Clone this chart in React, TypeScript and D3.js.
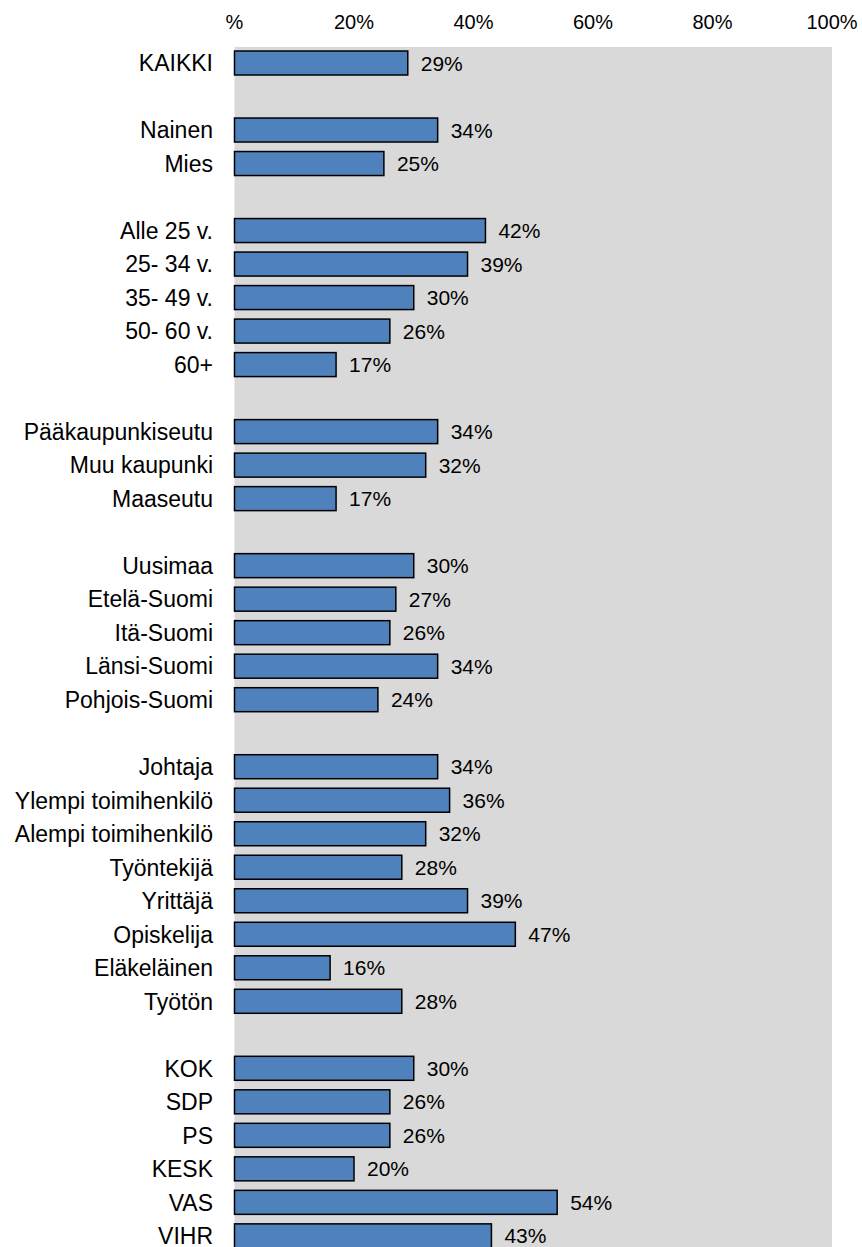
import React from "react";
import * as d3 from "d3";

const categories: string[] = [
  "KAIKKI", "_b1",
  "Nainen", "Mies", "_b2",
  "Alle 25 v.", "25- 34 v.", "35- 49 v.", "50- 60 v.", "60+", "_b3",
  "Pääkaupunkiseutu", "Muu kaupunki", "Maaseutu", "_b4",
  "Uusimaa", "Etelä-Suomi", "Itä-Suomi", "Länsi-Suomi", "Pohjois-Suomi", "_b5",
  "Johtaja", "Ylempi toimihenkilö", "Alempi toimihenkilö", "Työntekijä", "Yrittäjä", "Opiskelija", "Eläkeläinen", "Työtön", "_b6",
  "KOK", "SDP", "PS", "KESK", "VAS", "VIHR",
];

const values: (number | null)[] = [
  29, null,
  34, 25, null,
  42, 39, 30, 26, 17, null,
  34, 32, 17, null,
  30, 27, 26, 34, 24, null,
  34, 36, 32, 28, 39, 47, 16, 28, null,
  30, 26, 26, 20, 54, 43,
];

const tickValues = [0, 20, 40, 60, 80, 100];
const tickLabels = ["%", "20%", "40%", "60%", "80%", "100%"];

const W = 862;
const H = 1247;
const FONT = "'Liberation Sans', Arial, sans-serif";

export default function App() {
  const x = d3.scaleLinear().domain([0, 100]).range([234.5, 832]);
  const step = 33.51;
  const y = d3
    .scaleBand<string>()
    .domain(categories)
    .range([46.25, 46.25 + categories.length * step])
    .paddingInner(0.284)
    .paddingOuter(0.142);
  const bw = y.bandwidth();

  return (
    <div style={{ position: "absolute", left: 0, top: 0 }}>
      <svg width={W} height={H} style={{ display: "block", fontFamily: FONT }}>
        <rect x={0} y={0} width={W} height={H} fill="#ffffff" />
        <rect x={x(0)} y={47} width={x(100) - x(0)} height={H - 47} fill="#d9d9d9" />
        {tickValues.map((t, i) => (
          <text key={t} x={x(t)} y={29} textAnchor="middle" fontSize={20} fill="#000">
            {tickLabels[i]}
          </text>
        ))}
        {categories.map((c, i) => {
          const v = values[i];
          if (v === null) return null;
          const y0 = y(c)!;
          const cy = y0 + bw / 2;
          return (
            <g key={c}>
              <text x={213} y={cy} dy="0.36em" textAnchor="end" fontSize={23} fill="#000">
                {c}
              </text>
              <rect
                x={x(0)}
                y={y0}
                width={x(v) - x(0)}
                height={bw}
                fill="#4f81bd"
                stroke="#000"
                strokeWidth={1.5}
              />
              <text x={x(v) + 13} y={cy} dy="0.36em" textAnchor="start" fontSize={21} fill="#000">
                {v + "%"}
              </text>
            </g>
          );
        })}
      </svg>
    </div>
  );
}
